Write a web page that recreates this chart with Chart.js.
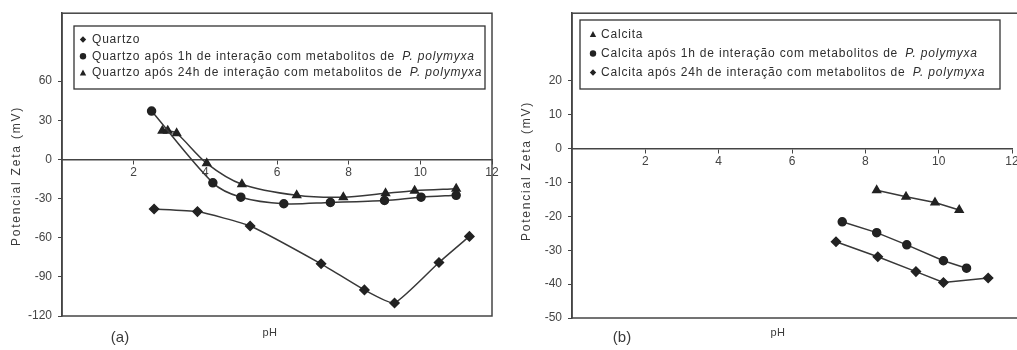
<!DOCTYPE html>
<html>
<head>
<meta charset="utf-8">
<script src="https://cdn.jsdelivr.net/npm/chart.js"></script>
<style>
  html, body { margin: 0; padding: 0; background: #fff; overflow: hidden; width: 1017px; height: 350px; }
  canvas { position: absolute; top: 0; }
</style>
</head>
<body>
<canvas id="chartA" width="508" height="350" style="left:0"></canvas>
<canvas id="chartB" width="520" height="350" style="left:508px"></canvas>
<script>
// (a) quartzo
const quartzoPh = [2.57, 3.78, 5.25, 7.23, 8.44, 9.28, 10.52, 11.37];
const quartzoZeta = [-38, -40, -51, -80, -100, -110, -79, -59];
const quartzo1hPh = [2.5, 4.21, 4.99, 6.19, 7.49, 9.0, 10.02, 11.0];
const quartzo1hZeta = [37, -18, -29, -34, -33, -31.5, -29, -27.5];
const quartzo24hPh = [2.8, 2.95, 3.2, 4.04, 5.02, 6.55, 7.85, 9.03, 9.84, 11.0];
const quartzo24hZeta = [22, 22, 20, -3, -19, -27.5, -29, -26, -24, -22.5];

// (b) calcita
const calcitaPh = [8.31, 9.11, 9.9, 10.56];
const calcitaZeta = [-12.3, -14.2, -15.9, -18.1];
const calcita1hPh = [7.37, 8.31, 9.13, 10.13, 10.76];
const calcita1hZeta = [-21.6, -24.8, -28.4, -33.1, -35.3];
const calcita24hPh = [7.2, 8.34, 9.38, 10.13, 11.35];
const calcita24hZeta = [-27.5, -31.9, -36.3, -39.5, -38.2];

const phTicks = [2, 4, 6, 8, 10, 12];
const quartzoTicks = [-120, -90, -60, -30, 0, 30, 60];
const calcitaTicks = [-50, -40, -30, -20, -10, 0, 10, 20];

const yTitle = 'Potencial Zeta (mV)';
const xTitle = 'pH';
const species = 'P. polymyxa';

const FONT = '"Liberation Sans", Arial, sans-serif';
const INK = '#383838';

function pts(xs, ys) {
    return xs.map((x, i) => ({ x: x, y: ys[i] }));
}

function drawMarker(ctx, style, x, y, r) {
    ctx.beginPath();
    if (style === 'circle') {
        ctx.arc(x, y, r, 0, Math.PI * 2);
    } else if (style === 'triangle') {
        ctx.moveTo(x, y - r * 1.1);
        ctx.lineTo(x + r, y + r * 0.8);
        ctx.lineTo(x - r, y + r * 0.8);
        ctx.closePath();
    } else {
        ctx.moveTo(x, y - r);
        ctx.lineTo(x + r, y);
        ctx.lineTo(x, y + r);
        ctx.lineTo(x - r, y);
        ctx.closePath();
    }
    ctx.fill();
}

// frame, legend box and titles
const panelPlugin = {
    id: 'panel',
    afterDraw(chart, args, opts) {
        const ctx = chart.ctx;
        const a = chart.chartArea;
        ctx.save();
        ctx.strokeStyle = '#444';
        ctx.lineWidth = 1.5;
        ctx.strokeRect(a.left, a.top, a.right - a.left + opts.frameExtra, a.bottom - a.top);

        // legend
        const L = opts.legend;
        ctx.fillStyle = '#fff';
        ctx.fillRect(L.x, L.y, L.w, L.h);
        ctx.strokeStyle = '#333';
        ctx.lineWidth = 1.3;
        ctx.strokeRect(L.x, L.y, L.w, L.h);
        ctx.textBaseline = 'middle';
        ctx.textAlign = 'left';
        ctx.letterSpacing = '0.8px';
        chart.data.datasets.forEach((ds, i) => {
            const y = L.row0 + i * L.gap;
            ctx.fillStyle = '#222';
            drawMarker(ctx, ds.pointStyle, L.mx, y, 3.2);
            ctx.fillStyle = '#2e2e2e';
            let x = L.tx;
            const k = ds.label.indexOf(species);
            const head = k >= 0 ? ds.label.slice(0, k) : ds.label;
            ctx.font = '12px ' + FONT;
            ctx.fillText(head, x, y);
            if (k >= 0) {
                x += ctx.measureText(head).width + 3;
                ctx.font = 'italic 12px ' + FONT;
                ctx.fillText(species, x, y);
            }
        });

        // axis titles and panel letter
        ctx.fillStyle = '#3a3a3a';
        ctx.textAlign = 'center';
        ctx.font = '12px ' + FONT;
        ctx.letterSpacing = '1.8px';
        ctx.save();
        ctx.translate(opts.yTitleX, opts.yTitleY);
        ctx.rotate(-Math.PI / 2);
        ctx.fillText(yTitle, 0, 0);
        ctx.restore();
        ctx.letterSpacing = '0.5px';
        ctx.font = '11px ' + FONT;
        ctx.fillText(xTitle, opts.xTitleX, 333);
        ctx.letterSpacing = '0px';
        ctx.font = '15px ' + FONT;
        ctx.fillText(opts.letter, opts.letterX, 338);
        ctx.restore();
    }
};

function makeChart(id, datasets, yMin, yMax, yTicks, pad, extra) {
    const tickFont = { family: FONT, size: 12 };
    return new Chart(document.getElementById(id), {
        type: 'scatter',
        data: { datasets: datasets },
        options: {
            responsive: false,
            animation: false,
            layout: { padding: pad },
            plugins: {
                legend: { display: false },
                tooltip: { enabled: false },
                panel: extra
            },
            scales: {
                x: {
                    type: 'linear',
                    position: { y: 0 },
                    min: 0,
                    max: 12,
                    afterBuildTicks: s => { s.ticks = phTicks.map(v => ({ value: v })); },
                    grid: { drawOnChartArea: false, tickLength: 4, color: '#444' },
                    border: { color: '#444', width: 1.5 },
                    ticks: { font: tickFont, color: '#444', padding: 2, maxRotation: 0, autoSkip: false }
                },
                y: {
                    type: 'linear',
                    position: 'left',
                    min: yMin,
                    max: yMax,
                    afterBuildTicks: s => { s.ticks = yTicks.map(v => ({ value: v })); },
                    afterFit: s => { s.width = 62; },
                    grid: { drawOnChartArea: false, tickLength: 4, color: '#444' },
                    border: { color: '#444', width: 1.5 },
                    ticks: { font: tickFont, color: '#444', padding: 6 }
                }
            }
        },
        plugins: [panelPlugin]
    });
}

function series(label, xs, ys, style, tension) {
    return {
        label: label,
        data: pts(xs, ys),
        showLine: true,
        borderColor: INK,
        borderWidth: 1.5,
        pointStyle: style,
        pointRadius: style === 'circle' ? 4 : 4.5,
        pointBackgroundColor: '#222',
        pointBorderColor: '#222',
        tension: tension
    };
}

makeChart('chartA', [
    series('Quartzo', quartzoPh, quartzoZeta, 'rectRot', 0.15),
    series('Quartzo após 1h de interação com metabolitos de P. polymyxa', quartzo1hPh, quartzo1hZeta, 'circle', 0.3),
    series('Quartzo após 24h de interação com metabolitos de P. polymyxa', quartzo24hPh, quartzo24hZeta, 'triangle', 0.3)
], -120, 112, quartzoTicks, { left: 0, top: 13, right: 16, bottom: 34 }, {
    frameExtra: 0,
    legend: { x: 74, y: 26, w: 411, h: 63, row0: 39.5, gap: 16.7, mx: 83, tx: 92 },
    yTitleX: 17, yTitleY: 176, xTitleX: 270, letter: '(a)', letterX: 120
});

makeChart('chartB', [
    series('Calcita', calcitaPh, calcitaZeta, 'triangle', 0),
    series('Calcita após 1h de interação com metabolitos de P. polymyxa', calcita1hPh, calcita1hZeta, 'circle', 0),
    series('Calcita após 24h de interação com metabolitos de P. polymyxa', calcita24hPh, calcita24hZeta, 'rectRot', 0)
], -50, 40, calcitaTicks, { left: 2, top: 12, right: 16, bottom: 32 }, {
    frameExtra: 20,
    legend: { x: 72, y: 20, w: 420, h: 69, row0: 34.5, gap: 19, mx: 85, tx: 93 },
    yTitleX: 19, yTitleY: 171, xTitleX: 270, letter: '(b)', letterX: 114
});
</script>
</body>
</html>
